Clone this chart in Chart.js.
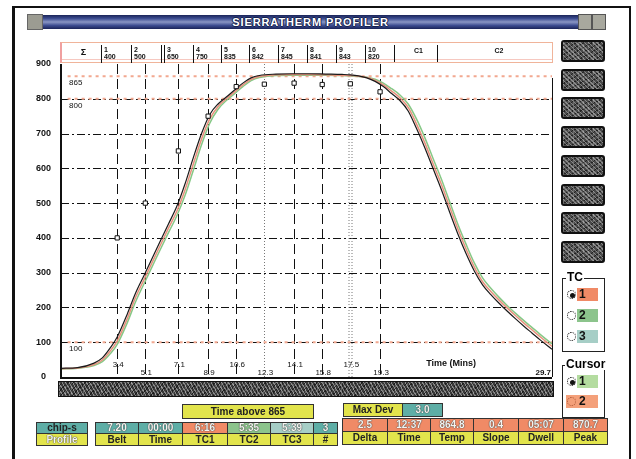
<!DOCTYPE html>
<html>
<head>
<meta charset="utf-8">
<script src="https://cdn.jsdelivr.net/npm/chart.js@4.4.1/dist/chart.umd.min.js"></script>
<style>
  body { margin:0; width:636px; height:459px; overflow:hidden; background:#fff; font-family:"Liberation Sans", Arial, sans-serif; }
  #c { position:absolute; left:0; top:0; }
  .abs { position:absolute; box-sizing:border-box; }
  .frame { left:12px; top:6px; width:619px; height:470px; border-left:3px solid #111; border-top:2px solid #111; border-right:2px solid #111; }
  .titleicon { left:27px; top:14px; width:16px; height:16px; background:#9c9c92; border:1px solid #666; }
  .titlebar { left:43px; top:15px; width:535px; height:14px;
    background:linear-gradient(#1a2458 0, #3c4c90 25%, #8a96c4 50%, #3c4c90 75%, #1a2458 100%);
    color:#fff; font:bold 11px "Liberation Sans", Arial, sans-serif; letter-spacing:0.9px; text-align:center; line-height:14px;
    text-shadow:-1px 0 #14204c, 1px 0 #14204c, 0 -1px #14204c, 0 1px #14204c; }
  .tbtn { top:14px; width:14px; height:16px; background:#a8a89e; border:1px solid #555; }
  .hdr { left:60px; top:42px; width:493px; height:21px; border:1px solid #f0b49a; border-left:2px solid #f0a0a0; background:#fff; }
  .hdr .line { position:absolute; left:0; right:0; top:16px; height:1px; background:#f6c8c0; }
  .hcell { position:absolute; top:2px; height:17px; border-left:1px solid #111; font:bold 7px "Liberation Sans", Arial, sans-serif; line-height:7px; padding-left:2px; color:#111; }
  .btn { left:561px; width:44px; height:22px; border:2px solid #111; border-radius:3px; background-color:#4a4a4a;
    background-image:repeating-linear-gradient(45deg, rgba(255,255,255,.35) 0 1px, transparent 1px 3px),
                     repeating-linear-gradient(-30deg, rgba(0,0,0,.55) 0 1px, transparent 1px 4px),
                     repeating-linear-gradient(90deg, rgba(255,255,255,.18) 0 1px, transparent 1px 5px); }
  .box { left:562px; width:43px; border:1px solid #222; background:#fff; }
  .boxlbl { font:bold 12px "Liberation Sans", Arial, sans-serif; background:#fff; padding:0 1px; line-height:12px; }
  .radio { width:9px; height:9px; border-radius:50%; border:1px dotted #111; background:#fff; }
  .radio.on::after { content:""; position:absolute; left:2px; top:2px; width:5px; height:5px; border-radius:50%; background:#111; }
  .rowc { height:13px; font:bold 12px "Liberation Sans", Arial, sans-serif; line-height:13px; padding-left:2px; color:#111; }
  .scroll { left:58px; top:381px; width:496px; height:16px; border:1px solid #111; background-color:#3a3a3a;
    background-image:repeating-linear-gradient(60deg, rgba(255,255,255,.4) 0 1px, transparent 1px 3px),
                     repeating-linear-gradient(-45deg, rgba(0,0,0,.5) 0 1px, transparent 1px 4px),
                     repeating-linear-gradient(90deg, rgba(200,200,200,.25) 0 1px, transparent 1px 6px); }
  .cell { position:absolute; box-sizing:border-box; border:1px solid #333; font:bold 10px "Liberation Sans", Arial, sans-serif; text-align:center; color:#222; overflow:hidden; white-space:nowrap; }
  .val { color:#f4f4f0; text-shadow:0 0 1px #333, 0 0 1px #333; }
  .teal { background:#5eaea6; }
  .yel { background:#e2e44c; }
  .sal { background:#f08a66; }
  .grn { background:#8cc48c; }
  .lte { background:#a6cec6; }
</style>
</head>
<body>
<canvas id="c" width="636" height="459"></canvas>

<div class="abs frame"></div>
<div class="abs titleicon"></div>
<div class="abs titlebar">SIERRATHERM PROFILER</div>
<div class="abs tbtn" style="left:578px"></div>
<div class="abs tbtn" style="left:592px"></div>

<div class="abs hdr" id="hdr"><div class="line"></div></div>

<div id="btns"></div>

<div class="abs box" style="top:278px;height:74px"></div>
<div class="abs boxlbl" style="left:566px;top:271px">TC</div>
<div class="abs rowc sal" style="left:577px;top:288px;width:21px">1</div>
<div class="abs radio on" style="left:567px;top:290px"></div>
<div class="abs rowc grn" style="left:577px;top:309px;width:21px">2</div>
<div class="abs radio" style="left:567px;top:311px"></div>
<div class="abs rowc lte" style="left:577px;top:330px;width:21px">3</div>
<div class="abs radio" style="left:567px;top:332px"></div>

<div class="abs box" style="top:365px;height:53px"></div>
<div class="abs boxlbl" style="left:565px;top:358px">Cursor</div>
<div class="abs rowc grn" style="left:577px;top:375px;width:21px;background:#b4dca0">1</div>
<div class="abs radio on" style="left:567px;top:377px"></div>
<div class="abs rowc sal" style="left:566px;top:395px;width:32px;padding-left:13px;background:#f4a07a">2</div>
<div class="abs radio" style="left:567px;top:397px;border-color:#a53;background:transparent"></div>

<div class="abs scroll"></div>

<div id="tables"></div>

<script>
// time axis (minutes) and thermocouple readings (deg)
const timeMin = [0,1,2,2.5,3,3.4,4,4.5,5,5.5,6,6.5,7,7.5,8,8.5,9,9.5,10,10.5,11,11.5,12,13,14,15,16,17,17.5,18,18.5,19,19.5,20,20.5,21,21.5,22,22.5,23,23.5,24,24.5,25,25.5,26,26.5,27,27.5,28,28.5,29,29.7];
const tcBlack = [25,27,40,55,85,115,180,240,290,340,390,440,490,555,630,700,755,785,805,825,845,860,867,871,872,872,871,870,869,866,860,850,835,815,795,765,715,660,600,540,475,412,355,305,265,237,212,189,167,146,126,106,80];
const tcPink  = [24,26,36,49,76,104,167,228,278,328,378,428,476,538,612,684,742,778,800,820,840,856,864,869,870,870,869,868,867,865,861,853,840,822,803,775,728,674,614,555,490,426,368,316,274,246,221,198,176,155,135,115,88];
const tcGreen = [23,25,33,44,68,94,155,215,266,316,366,415,463,522,594,668,730,770,795,815,835,852,861,867,868,868,868,867,866,864,862,856,845,829,811,785,742,689,629,570,505,440,382,328,285,255,229,205,183,162,142,122,95];

// zones: boundary times, names and setpoints
const zoneNames = ['1','2','3','4','5','6','7','8','9','10'];
const zoneTimes = [3.4,5.1,7.1,8.9,10.6,12.3,14.1,15.8,17.5,19.3];
const zoneSetpoints = [400,500,650,750,835,842,845,841,843,820];
const cursorTimes = [12.3,17.5];

const limitValues = [865,800,100];
const yTickMax = 900;
const xEnd = 29.7;

// --- header row with zones ---
const hdr = document.getElementById('hdr');
const hdrEdges = [39,69,99,102,131,159,187,216,245,274,303,332,375,493];
const hdrText = ['&Sigma;', ...zoneNames.slice(0, 2).map((z, i) => z + '<br>' + zoneSetpoints[i]), '',
                 ...zoneNames.slice(2).map((z, i) => z + '<br>' + zoneSetpoints[i + 2]), 'C1', 'C2'];
let prev = 0;
hdrEdges.forEach((edge, i) => {
  const d = document.createElement('div');
  d.className = 'hcell';
  d.style.left = prev + 'px';
  d.style.width = (edge - prev) + 'px';
  if (i === 0) { d.style.borderLeft = 'none'; d.style.textAlign = 'center'; d.style.lineHeight = '14px'; d.style.fontSize = '9px'; }
  else if (hdrText[i] === 'C1' || hdrText[i] === 'C2') { d.style.textAlign = 'center'; d.style.lineHeight = '12px'; }
  else d.style.paddingTop = '1px';
  d.innerHTML = hdrText[i];
  hdr.appendChild(d);
  prev = edge;
});

// --- right hand buttons ---
const btns = document.getElementById('btns');
[40,69,97,126,155,184,212,241].forEach(t => {
  const b = document.createElement('div');
  b.className = 'abs btn';
  b.style.top = t + 'px';
  btns.appendChild(b);
});

// --- bottom tables ---
const tables = document.getElementById('tables');
function cell(x, y, w, h, txt, cls) {
  const d = document.createElement('div');
  d.className = 'cell ' + cls;
  d.style.left = x + 'px'; d.style.top = y + 'px';
  d.style.width = w + 'px'; d.style.height = h + 'px';
  d.style.lineHeight = (h - 2) + 'px';
  d.textContent = txt;
  tables.appendChild(d);
}
cell(182, 404, 132, 15, 'Time above 865', 'yel');
cell(36, 422, 52, 12, 'chip-s', 'teal');
cell(36, 433, 52, 13, 'Profile', 'yel val');
const leftCols = [95,138,182,227,270,313,337];
const leftVals = ['7.20','00:00','6:16','5:35','5:39','3'];
const leftLbls = ['Belt','Time','TC1','TC2','TC3','#'];
const leftCls = ['teal','teal','sal','grn','lte','teal'];
leftVals.forEach((v, i) => {
  const w = leftCols[i+1] - leftCols[i] + 1;
  cell(leftCols[i], 422, w, 12, v, leftCls[i] + ' val');
  cell(leftCols[i], 433, w, 13, leftLbls[i], 'yel');
});
cell(343, 403, 60, 14, 'Max Dev', 'yel');
cell(402, 403, 41, 14, '3.0', 'teal val');
const rightCols = [342,387,430,473,518,563,607];
const rightVals = ['2.5','12:37','864.8','0.4','05:07','870.7'];
const rightLbls = ['Delta','Time','Temp','Slope','Dwell','Peak'];
rightVals.forEach((v, i) => {
  const w = rightCols[i+1] - rightCols[i] + 1;
  cell(rightCols[i], 418, w, 14, v, 'sal val');
  cell(rightCols[i], 431, w, 14, rightLbls[i], 'yel');
});

// --- chart ---
const pts = vals => timeMin.map((t, i) => ({x: t, y: vals[i]}));

const profilerGrid = {
  id: 'profilerGrid',
  beforeDatasetsDraw(chart) {
    const {ctx, chartArea: a, scales: {x, y}} = chart;
    ctx.save();
    ctx.lineWidth = 1;
    ctx.strokeStyle = '#111';
    ctx.setLineDash([8,3,2,3]);
    for (let v = 100; v <= 800; v += 100) {
      const py = Math.round(y.getPixelForValue(v)) + 0.5;
      ctx.beginPath(); ctx.moveTo(a.left, py); ctx.lineTo(a.right, py); ctx.stroke();
    }
    zoneTimes.forEach(t => {
      const px = Math.round(x.getPixelForValue(t)) + 0.5;
      if (cursorTimes.includes(t)) {
        ctx.strokeStyle = '#777';
        ctx.setLineDash([1,2]);
        const offs = t === cursorTimes[1] ? [-1.5, 1.5] : [0];
        offs.forEach(o => { ctx.beginPath(); ctx.moveTo(px + o, a.top); ctx.lineTo(px + o, a.bottom); ctx.stroke(); });
      } else {
        ctx.strokeStyle = '#111';
        ctx.setLineDash([10,5]);
        ctx.beginPath(); ctx.moveTo(px, a.top); ctx.lineTo(px, a.bottom); ctx.stroke();
      }
    });
    ctx.restore();
  },
  afterDatasetsDraw(chart) {
    const {ctx, chartArea: a, scales: {x, y}} = chart;
    ctx.save();
    ctx.fillStyle = '#111';
    ctx.font = '8px "Liberation Sans", Arial, sans-serif';
    ctx.textBaseline = 'top';
    ctx.textAlign = 'left';
    limitValues.forEach(v => ctx.fillText(String(v), a.left + 8, y.getPixelForValue(v) + 3));
    ctx.textAlign = 'center';
    ctx.textBaseline = 'middle';
    zoneTimes.forEach((t, i) => {
      ctx.fillText(t.toFixed(1), x.getPixelForValue(t) + 1, a.bottom - (i % 2 === 0 ? 12 : 4));
    });
    ctx.font = 'bold 9px "Liberation Sans", Arial, sans-serif';
    ctx.fillText('Time (Mins)', x.getPixelForValue(23.6), a.bottom - 13);
    ctx.font = 'bold 8px "Liberation Sans", Arial, sans-serif';
    ctx.textAlign = 'right';
    ctx.fillText(xEnd.toFixed(1), a.right - 1, a.bottom - 4);
    // plot frame
    ctx.strokeStyle = '#111';
    ctx.lineWidth = 2;
    ctx.beginPath(); ctx.moveTo(a.left, a.top); ctx.lineTo(a.left, a.bottom + 1); ctx.lineTo(a.right, a.bottom + 1); ctx.stroke();
    ctx.lineWidth = 1;
    ctx.beginPath(); ctx.moveTo(a.right + 0.5, a.top + 14); ctx.lineTo(a.right + 0.5, a.bottom); ctx.stroke();
    ctx.restore();
  }
};

const limitSets = limitValues.map(v => ({
  type: 'line',
  data: [{x: 0.4, y: v}, {x: xEnd, y: v}],
  borderColor: '#f2a890',
  borderWidth: 2,
  borderDash: [3, 4],
  pointRadius: 0,
  order: 5
}));

new Chart(document.getElementById('c'), {
  type: 'line',
  data: {
    datasets: [
      ...limitSets,
      { label: 'TC2', data: pts(tcGreen), borderColor: '#86c886', borderWidth: 1.5, pointRadius: 0, cubicInterpolationMode: 'monotone', order: 4 },
      { label: 'TC1', data: pts(tcPink), borderColor: '#e8907c', borderWidth: 1.5, pointRadius: 0, cubicInterpolationMode: 'monotone', order: 3 },
      { label: 'TC3', data: pts(tcBlack), borderColor: '#1a1a1a', borderWidth: 1.2, pointRadius: 0, cubicInterpolationMode: 'monotone', order: 2 },
      { type: 'scatter', label: 'Setpoints', data: zoneTimes.map((t, i) => ({x: t, y: zoneSetpoints[i]})),
        pointStyle: 'rect', pointRadius: 3, backgroundColor: '#fff', borderColor: '#111', borderWidth: 1, order: 1 }
    ]
  },
  options: {
    responsive: false,
    animation: false,
    devicePixelRatio: 1,
    layout: { padding: { left: 0, right: 84, top: 64, bottom: 82 } },
    plugins: { legend: { display: false }, tooltip: { enabled: false } },
    scales: {
      x: {
        type: 'linear', min: 0, max: xEnd,
        grid: { display: false }, border: { display: false },
        ticks: { display: false },
        afterFit: s => { s.height = 0; }
      },
      y: {
        min: 0, max: yTickMax,
        grid: { display: false, drawTicks: false }, border: { display: false },
        ticks: { stepSize: 100, color: '#111', padding: 10, crossAlign: 'center',
                 font: { family: '"Liberation Sans", Arial, sans-serif', size: 9, weight: 'bold' } },
        afterFit: s => { s.width = 61; }
      }
    }
  },
  plugins: [profilerGrid]
});
</script>
</body>
</html>
